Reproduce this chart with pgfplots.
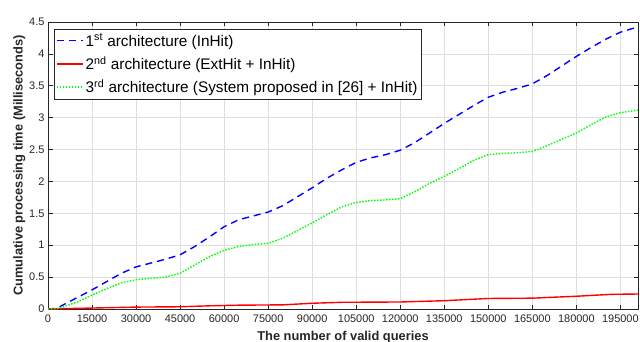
\documentclass[border=0pt]{standalone}
\usepackage{pgfplots}
\pgfplotsset{compat=1.18}
\usepackage{fontspec}
\setmainfont{Liberation Sans}
\definecolor{gridgray}{RGB}{222,222,222}
\definecolor{axgray}{RGB}{38,38,38}
\definecolor{lred}{RGB}{255,0,0}
\definecolor{lblue}{RGB}{0,0,255}
\definecolor{lgreen}{RGB}{0,255,0}
\begin{document}
\begin{tikzpicture}
\useasboundingbox (-48bp,-33bp) rectangle (592bp,309bp);
\begin{axis}[
  at={(0,0)}, anchor=south west,
  scale only axis, width=590bp, height=287bp,
  xmin=0, xmax=201000, ymin=0, ymax=4.5,
  xtick={0,15000,...,195000},
  ytick={0,0.5,...,4.5},
  scaled x ticks=false,
  xticklabel style={/pgf/number format/fixed,/pgf/number format/1000 sep={}, yshift=-2bp},
  yticklabel style={/pgf/number format/fixed},
  /pgf/number format/assume math mode=true,
  tick label style={font=\fontsize{11}{12}\selectfont, color=axgray},
  grid=major, major grid style={gridgray, line width=0.6pt},
  axis line style={axgray, line width=0.6pt},
  tick style={axgray, line width=0.6pt},
  major tick length=4.5bp,
  xlabel={\textbf{The number of valid queries}},
  ylabel={\textbf{Cumulative processing time (Milliseconds)}},
  label style={font=\fontsize{12.9}{14}\selectfont, color=axgray},
  xlabel style={yshift=-2bp},
  ylabel style={yshift=-3bp},
  legend cell align=left,
  legend style={at={(0.01,0.975)}, anchor=north west, fill=white, draw=axgray,
    font=\fontsize{15.4}{18}\selectfont, inner xsep=2bp, inner ysep=2.5bp,
    row sep=5bp},
]
\addplot[color=lblue, line width=1.4pt, dash pattern=on 7bp off 5bp,
  legend image code/.code={\draw[draw=lblue, line width=1.6pt, dash pattern=on 7bp off 5bp] (0bp,0bp) -- (26bp,0bp);}] coordinates {
(0,0) (3000,0.01) (5000,0.06) (10000,0.18) (15000,0.30) (20000,0.43) (25000,0.56)
(30000,0.66) (35000,0.72) (40000,0.78) (45000,0.85) (50000,0.98) (55000,1.13)
(60000,1.29) (65000,1.40) (70000,1.46) (75000,1.52) (80000,1.62) (85000,1.76)
(90000,1.90) (95000,2.05) (100000,2.18) (105000,2.30) (110000,2.37) (115000,2.42)
(120000,2.49) (125000,2.61) (130000,2.76) (135000,2.91) (140000,3.05) (145000,3.19)
(150000,3.32) (155000,3.40) (160000,3.46) (165000,3.53) (170000,3.66) (175000,3.81)
(180000,3.96) (185000,4.10) (190000,4.23) (195000,4.34) (200000,4.41) (201000,4.43)
};
\addlegendentry{1\textsuperscript{st} architecture (InHit)}
\addplot[color=lred, line width=1.4pt, solid,
  legend image code/.code={\draw[draw=lred, line width=1.6pt] (0bp,0bp) -- (26bp,0bp);}] coordinates {
(0,0) (10000,0.01) (20000,0.02) (30000,0.03) (45000,0.035) (55000,0.05) (65000,0.06)
(80000,0.065) (90000,0.09) (100000,0.105) (120000,0.11) (135000,0.13) (150000,0.165)
(165000,0.17) (180000,0.20) (192000,0.23) (201000,0.235)
};
\addlegendentry{2\textsuperscript{nd} architecture (ExtHit + InHit)}
\addplot[color=lgreen, line width=1.4pt, dash pattern=on 1.5bp off 1.5bp,
  legend image code/.code={\draw[draw=lgreen, line width=1.6pt, dash pattern=on 1.5bp off 1.5bp] (0bp,0bp) -- (26bp,0bp);}] coordinates {
(0,0) (3000,0.005) (5000,0.03) (10000,0.11) (15000,0.22) (20000,0.32) (25000,0.41)
(30000,0.46) (35000,0.48) (40000,0.50) (45000,0.56) (50000,0.69) (55000,0.82)
(60000,0.92) (65000,0.98) (70000,1.01) (75000,1.03) (80000,1.11) (85000,1.23)
(90000,1.35) (95000,1.48) (100000,1.60) (105000,1.67) (110000,1.70) (115000,1.71)
(120000,1.73) (125000,1.84) (130000,1.97) (135000,2.08) (140000,2.20) (145000,2.33)
(150000,2.42) (155000,2.44) (160000,2.45) (165000,2.47) (170000,2.56) (175000,2.66)
(180000,2.76) (185000,2.89) (190000,3.01) (195000,3.08) (200000,3.11) (201000,3.12)
};
\addlegendentry{3\textsuperscript{rd} architecture (System proposed in [26] + InHit)}
\node[anchor=south west, inner sep=0pt, font=\fontsize{11}{12}\selectfont, color=axgray]
  at (rel axis cs:0,1) [yshift=4bp] {×10\textsuperscript{6}};
\end{axis}
\end{tikzpicture}
\end{document}
